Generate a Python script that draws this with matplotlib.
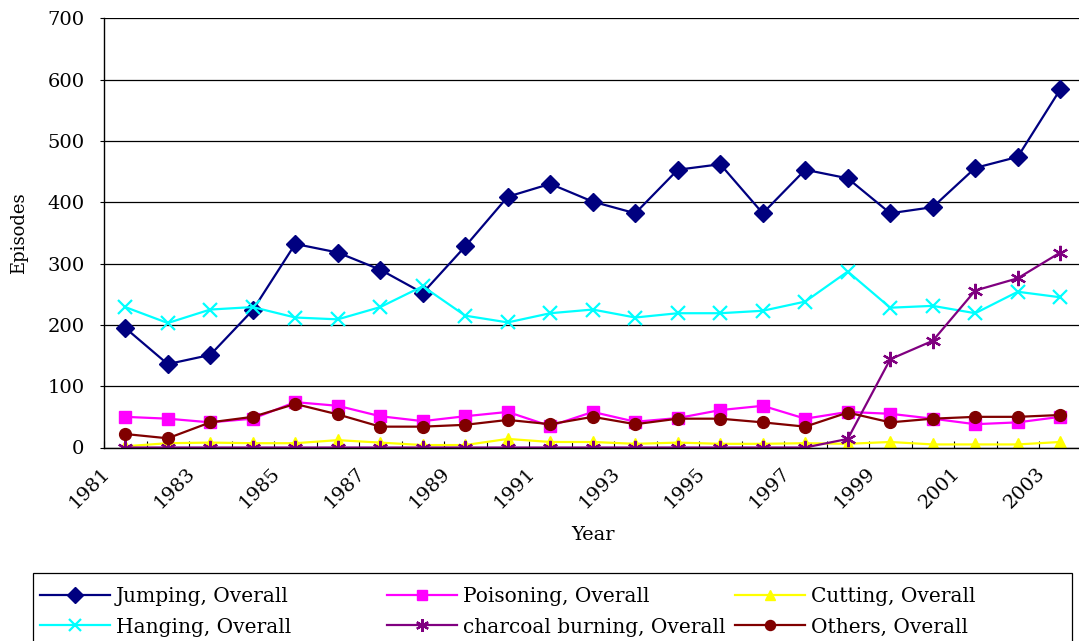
import numpy as np
import matplotlib
matplotlib.use("Agg")
import matplotlib.pyplot as plt
import matplotlib.transforms as mtransforms
from matplotlib.patches import Rectangle

plt.rcParams['font.family'] = ['DejaVu Serif']

years = list(range(1981, 2004))
label_years = list(range(1981, 2004, 2))

jumping = [195, 136, 151, 224, 332, 318, 290, 252, 328, 409, 430, 401,
           382, 453, 462, 382, 453, 439, 382, 392, 456, 474, 584]
poisoning = [50, 47, 41, 47, 74, 68, 51, 43, 51, 58, 35, 58,
             42, 48, 61, 68, 47, 58, 55, 47, 38, 41, 50]
cutting = [2, 7, 8, 7, 7, 12, 8, 4, 4, 14, 9, 9,
           6, 8, 6, 6, 7, 6, 9, 5, 5, 5, 9]
hanging = [229, 203, 225, 229, 212, 209, 229, 263, 215, 204, 219, 225,
           212, 219, 219, 223, 238, 287, 228, 231, 219, 254, 245]
charcoal = [0, 0, 0, 0, 0, 0, 0, 0, 0, 0, 0, 0,
            0, 0, 0, 0, 0, 14, 144, 174, 256, 276, 318]
others = [22, 15, 41, 50, 71, 54, 34, 34, 37, 45, 38, 50,
          38, 47, 47, 41, 34, 57, 41, 47, 50, 50, 53]

series = [
    ("Jumping, Overall", jumping, "#000080", "D", 9, {}),
    ("Poisoning, Overall", poisoning, "#FF00FF", "s", 8, {}),
    ("Cutting, Overall", cutting, "#FFFF00", "^", 9, {}),
    ("Hanging, Overall", hanging, "#00FFFF", "x", 10, {"markeredgewidth": 1.6}),
    ("charcoal burning, Overall", charcoal, "#800080", (6, 2, 0), 11, {"markeredgewidth": 1.6}),
    ("Others, Overall", others, "#800000", "o", 8.5, {}),
]

W, H = 1079, 641
fig = plt.figure(figsize=(W / 100, H / 100), dpi=100)
ax = fig.add_axes([104 / W, (H - 447.5) / H, 977.5 / W, 429.2 / H])

x = np.arange(len(years))
handles = {}
for name, vals, col, mk, ms, extra in series:
    ln, = ax.plot(x, vals, color=col, lw=1.6, marker=mk, markersize=ms,
                  markerfacecolor=col, markeredgecolor=col, label=name, **extra)
    handles[name] = ln

ax.set_xlim(-0.5, len(years) - 0.5)
ax.set_ylim(0, 700)
ax.set_yticks(range(0, 701, 100))
ax.yaxis.grid(True, color="black", lw=0.9)
ax.set_axisbelow(True)
ax.tick_params(axis="y", labelsize=14, length=3, pad=11, direction="out")

# tick marks between categories, labels placed by hand for the 45 degree look
ax.set_xticks(np.arange(-0.5, len(years), 1))
ax.set_xticklabels([])
ax.tick_params(axis="x", direction="in", length=5, width=0.8)
off = mtransforms.ScaledTranslation(-36 / 100, -40 / 100, fig.dpi_scale_trans)
trans = ax.get_xaxis_transform() + off
for yr in label_years:
    ax.text(years.index(yr), 0, str(yr), transform=trans, rotation=45,
            ha="center", va="center", fontsize=14)

for s in ["top", "right"]:
    ax.spines[s].set_visible(False)
for s in ["left", "bottom"]:
    ax.spines[s].set_linewidth(1.0)

fig.text(19.5 / W, 1 - 233 / H, "Episodes", rotation=90, ha="center", va="center", fontsize=13)
fig.text(593 / W, 1 - 535 / H, "Year", ha="center", va="center", fontsize=14)

# legend: three fixed-width columns inside one box that runs off the bottom
columns = [["Jumping, Overall", "Hanging, Overall"],
           ["Poisoning, Overall", "charcoal burning, Overall"],
           ["Cutting, Overall", "Others, Overall"]]
col_x = [40, 387, 735]
for names, cx in zip(columns, col_x):
    leg = fig.legend([handles[n] for n in names], names, loc="center left",
                     bbox_to_anchor=(cx / W, 1 - 612 / H), fontsize=14.5,
                     frameon=False, handlelength=3.5, handletextpad=0.25,
                     labelspacing=0.55, borderaxespad=0, borderpad=0)
    for lh in leg.legend_handles:
        lh.set_markersize(lh.get_markersize() * 0.85)

fig.add_artist(Rectangle((33 / W, -0.1), 1039 / W, 0.1 + (H - 573) / H,
                         transform=fig.transFigure, fill=False,
                         edgecolor="black", lw=0.9))

fig.savefig("out.png", dpi=100)
